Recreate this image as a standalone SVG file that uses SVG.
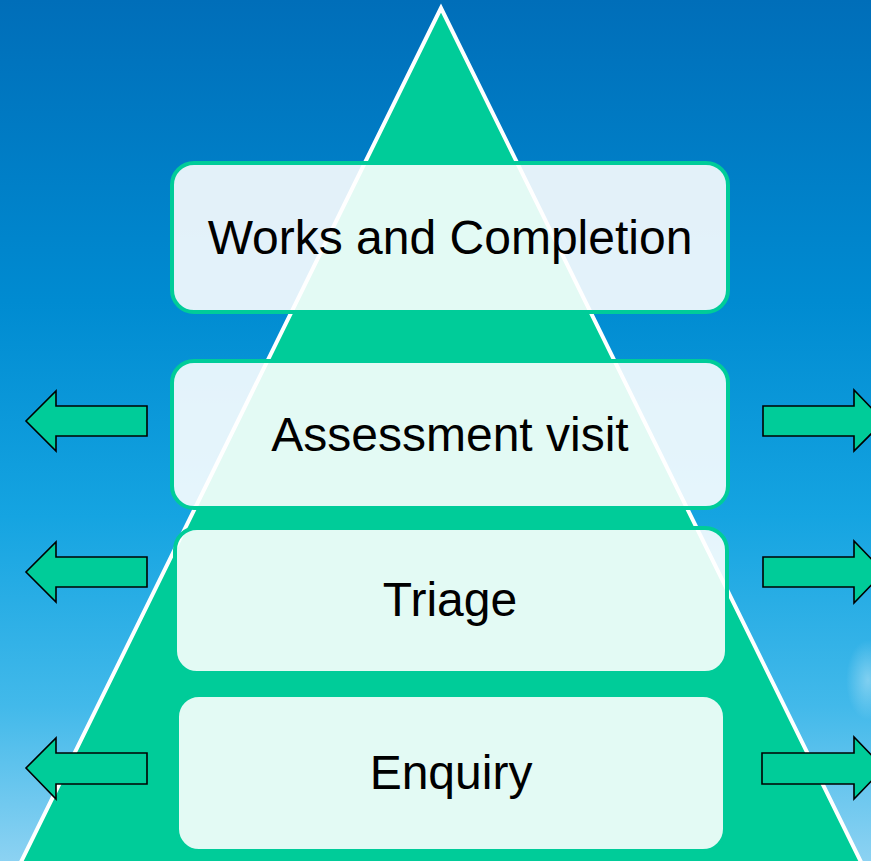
<svg xmlns="http://www.w3.org/2000/svg" width="871" height="861" viewBox="0 0 871 861">
  <defs>
    <linearGradient id="sky" x1="0" y1="0" x2="0" y2="1">
      <stop offset="0" stop-color="#006EB9"/>
      <stop offset="0.35" stop-color="#008BD1"/>
      <stop offset="0.6" stop-color="#15A4E1"/>
      <stop offset="0.82" stop-color="#42B9EA"/>
      <stop offset="1" stop-color="#8CD2F2"/>
    </linearGradient>
    <radialGradient id="glow" cx="0.5" cy="0.5" r="0.5">
      <stop offset="0" stop-color="#FFFFFF" stop-opacity="0.35"/>
      <stop offset="1" stop-color="#FFFFFF" stop-opacity="0"/>
    </radialGradient>
    <style>
      .stage rect { fill: #FFFFFF; fill-opacity: 0.89; stroke: #00CC99; stroke-width: 4; }
      .stage text { font-family: "Liberation Sans", Arial, sans-serif; font-size: 48px; fill: #000000; text-anchor: middle; }
      .arrow { fill: #00CC99; stroke: #000000; stroke-width: 1.6; stroke-linejoin: miter; }
    </style>
  </defs>

  <!-- background -->
  <rect x="0" y="0" width="871" height="861" fill="url(#sky)"/>
  <ellipse cx="868" cy="680" rx="22" ry="40" fill="url(#glow)"/>

  <!-- pyramid -->
  <polygon id="pyramid" points="441,8 20,864 862,864" fill="#00CC99" stroke="#FFFFFF" stroke-width="4" stroke-linejoin="miter"/>

  <!-- stage boxes -->
  <g id="works" class="stage">
    <rect x="172" y="163" width="556" height="149" rx="22"/>
    <text x="450" y="254">Works and Completion</text>
  </g>
  <g id="assessment" class="stage">
    <rect x="172" y="361" width="556" height="147" rx="22"/>
    <text x="450" y="451">Assessment visit</text>
  </g>
  <g id="triage" class="stage">
    <rect x="175" y="528" width="552" height="145" rx="22"/>
    <text x="450" y="616">Triage</text>
  </g>
  <g id="enquiry" class="stage">
    <rect x="177" y="695" width="548" height="156" rx="22"/>
    <text x="451" y="789">Enquiry</text>
  </g>

  <!-- side arrows -->
  <g id="connectors">
    <polygon class="arrow" points="147,406 56,406 56,391 26,421 56,451 56,436 147,436"/>
    <polygon class="arrow" points="147,557 56,557 56,542 26,572 56,602 56,587 147,587"/>
    <polygon class="arrow" points="147,753 56,753 56,738 26,768 56,799 56,784 147,784"/>
    <polygon class="arrow" points="763,406 854,406 854,390 884,421 854,451 854,436 763,436"/>
    <polygon class="arrow" points="763,557 854,557 854,541 884,572 854,603 854,587 763,587"/>
    <polygon class="arrow" points="762,753 854,753 854,737 884,768 854,799 854,784 762,784"/>
  </g>
</svg>
